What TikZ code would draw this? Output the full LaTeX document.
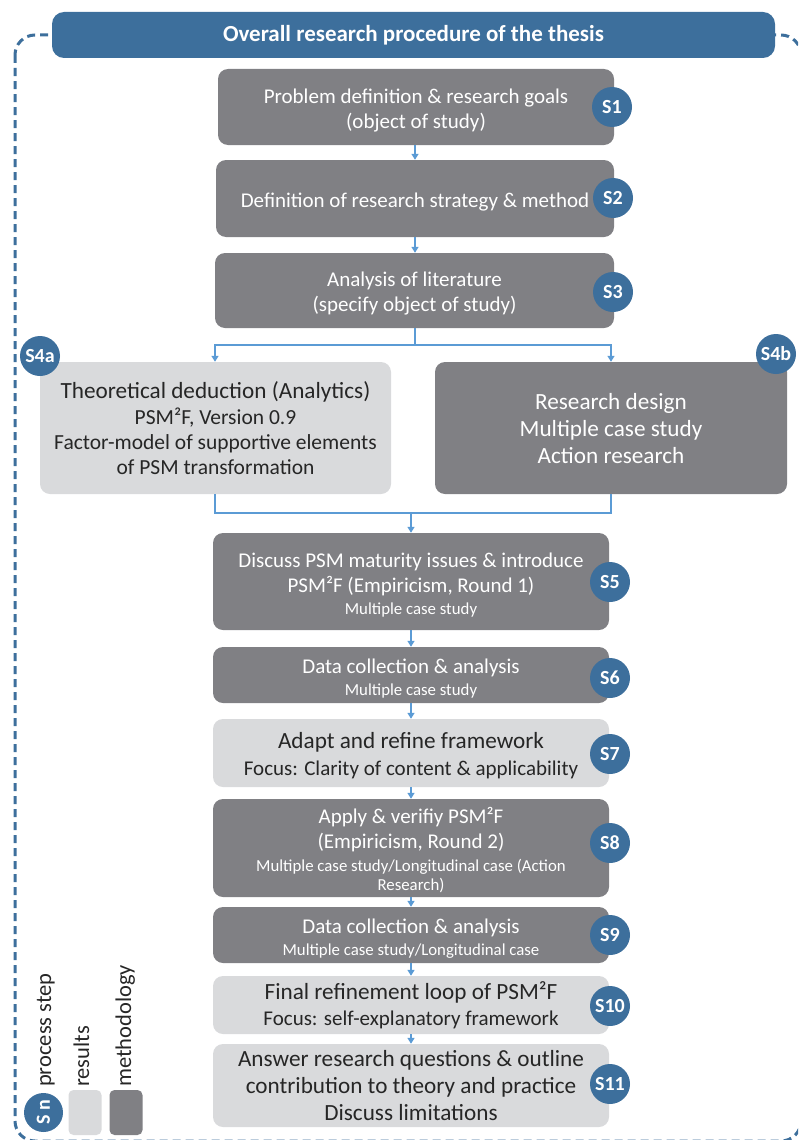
\documentclass[tikz,border=0pt]{standalone}
\usepackage{fontspec}
\setmainfont{Carlito}
\usetikzlibrary{arrows.meta,shapes.geometric}
\definecolor{stepblue}{RGB}{61,111,156}
\definecolor{darkbox}{RGB}{128,128,132}
\definecolor{lightbox}{RGB}{217,218,220}
\definecolor{arrowblue}{RGB}{91,155,213}
\definecolor{textdark}{RGB}{38,38,38}
\newcommand\fmain{\fontsize{21}{25}\selectfont}
\newcommand\fmid{\fontsize{21.5}{25}\selectfont}
\newcommand\flarge{\fontsize{23.2}{27}\selectfont}
\newcommand\fsmall{\fontsize{16.8}{20}\selectfont}
\newcommand\psmf{PSM²F}
\tikzset{
  boxbase/.style={rounded corners=10pt, inner sep=0pt, minimum width=396pt},
  darkstep/.style={boxbase, fill=darkbox},
  lightstep/.style={boxbase, fill=lightbox},
  wtext/.style={align=center, inner sep=0pt, text=white, font=\fmain},
  dtext/.style={align=center, inner sep=0pt, text=textdark, font=\fmain},
  stepc/.style={circle, fill=stepblue, text=white, minimum size=40pt, inner sep=0pt, font=\fontsize{20}{22}\selectfont\bfseries},
  conn/.style={draw=arrowblue, line width=1.4pt, -{Triangle[length=6pt,width=7pt]}},
  connline/.style={draw=arrowblue, line width=1.4pt},
  legtext/.style={rotate=90, anchor=base west, inner sep=0pt, text=textdark, font=\fontsize{22.5}{24}\selectfont}
}
\begin{document}
\begin{tikzpicture}[x=1pt,y=-1pt]
\useasboundingbox (0,0) rectangle (798,1140);
\begin{scope}
\clip (0,0) rectangle (798,1140);
\draw[stepblue, line width=3pt, dash pattern=on 8pt off 5pt, rounded corners=20pt] (15,35) rectangle (801,1141);
\end{scope}
% banner
\node[fill=stepblue, rounded corners=12pt, minimum width=723pt, minimum height=46pt, inner sep=0pt, text=white, font=\fontsize{23}{26}\selectfont\bfseries] (title) at (413.5,35) {Overall research procedure of the thesis};

% boxes
\node[darkstep, minimum height=76pt] (s1) at (416,107) {};
\node[darkstep, minimum width=398pt, minimum height=77pt] (s2) at (415,198.5) {};
\node[darkstep, minimum width=399pt, minimum height=75pt] (s3) at (414.5,290.5) {};
\node[lightstep, minimum width=351pt, minimum height=132pt] (s4a) at (215.5,428) {};
\node[darkstep, minimum width=352pt, minimum height=132pt] (s4b) at (611,428) {};
\node[darkstep, minimum height=97pt] (s5) at (411,581.5) {};
\node[darkstep, minimum height=56pt] (s6) at (411,675) {};
\node[lightstep, minimum height=68pt] (s7) at (411,753) {};
\node[darkstep, minimum height=98pt] (s8) at (411,848) {};
\node[darkstep, minimum height=56pt] (s9) at (411,935) {};
\node[lightstep, minimum height=58pt] (s10) at (411,1005) {};
\node[lightstep, minimum height=83pt] (s11) at (411,1085.5) {};

% box texts
\node[wtext] (t1) at ([yshift=-3.5pt]s1.center) {Problem definition \& research goals\\(object of study)};
\node[wtext] (t2) at ([yshift=-3.5pt]s2.center) {Definition of research strategy \& method};
\node[wtext] (t3) at ([yshift=-3.5pt]s3.center) {Analysis of literature\\(specify object of study)};
\node[dtext, font=\flarge] (t4a) at ([yshift=-0.5pt]s4a.center) {Theoretical deduction (Analytics)\\[-1pt]\fmid\psmf, Version 0.9\\[-2pt]\fmid Factor-model of supportive elements\\[-2pt]\fmid of PSM transformation};
\node[wtext, font=\flarge] (t4b) at ([yshift=-1pt]s4b.center) {Research design\\Multiple case study\\Action research};
\node[wtext] (t5) at ([yshift=-3.5pt]s5.center) {Discuss PSM maturity issues \& introduce\\\psmf{} (Empiricism, Round 1)\\[-3pt]\fsmall Multiple case study};
\node[wtext] (t6) at ([yshift=-4pt]s6.center) {Data collection \& analysis\\[-3pt]\fsmall Multiple case study};
\node[dtext] (t7) at ([yshift=-3pt]s7.center) {\flarge Adapt and refine framework\\[2pt]Focus: Clarity of content \& applicability};
\node[wtext] (t8) at ([yshift=-2pt]s8.center) {Apply \& verifiy \psmf\\(Empiricism, Round 2)\\[-2pt]\fsmall Multiple case study/Longitudinal case (Action\\[-6pt]\fsmall Research)};
\node[wtext] (t9) at ([yshift=-3.5pt]s9.center) {Data collection \& analysis\\[-3pt]\fsmall Multiple case study/Longitudinal case};
\node[dtext] (t10) at (s10.center) {\flarge Final refinement loop of \psmf\\[1pt]Focus: self-explanatory framework};
\node[dtext, font=\flarge] (t11) at ([yshift=-0.5pt]s11.center) {Answer research questions \& outline\\contribution to theory and practice\\Discuss limitations};

% step circles
\node[stepc] (c1) at (612,107) {S1};
\node[stepc] (c2) at (613,198) {S2};
\node[stepc] (c3) at (613,292) {S3};
\node[stepc] (c4a) at (40,356) {S4a};
\node[stepc] (c4b) at (776,354) {S4b};
\node[stepc] (c5) at (610,582) {S5};
\node[stepc] (c6) at (610,678) {S6};
\node[stepc] (c7) at (610,754) {S7};
\node[stepc] (c8) at (610,843) {S8};
\node[stepc] (c9) at (610,935) {S9};
\node[stepc] (c10) at (610,1006) {S10};
\node[stepc] (c11) at (610,1084) {S11};

% connectors
\coordinate (split) at (415,345);
\coordinate (join) at (411,513);
\draw[conn] (s1.south -| 415,0) -- (s2.north -| 415,0);
\draw[conn] (s2.south -| 415,0) -- (s3.north -| 415,0);
\draw[connline] (s3.south -| split) -- (split);
\draw[conn] (split) -| (s4a.north -| 215,0);
\draw[conn] (split) -| (s4b.north -| 611,0);
\draw[connline] (s4a.south -| 215,0) |- (join);
\draw[connline] (s4b.south -| 611,0) |- (join);
\draw[conn] (join) -- (s5.north -| join);
\draw[conn] (s5.south -| 411,0) -- (s6.north -| 411,0);
\draw[conn] (s6.south -| 411,0) -- (s7.north -| 411,0);
\draw[conn] (s7.south -| 411,0) -- (s8.north -| 411,0);
\draw[conn] (s8.south -| 411,0) -- (s9.north -| 411,0);
\draw[conn] (s9.south -| 411,0) -- (s10.north -| 411,0);
\draw[conn] (s10.south -| 411,0) -- (s11.north -| 411,0);

% legend
\node[stepc, circle, minimum size=39pt] (legc) at (43.5,1112.5) {\rotatebox{90}{S n}};
\node[fill=lightbox, rounded corners=5pt, minimum width=33pt, minimum height=45pt, inner sep=0pt] (legr) at (85,1112.5) {};
\node[fill=darkbox, rounded corners=5pt, minimum width=33pt, minimum height=45pt, inner sep=0pt] (legm) at (126,1112.5) {};
\node[legtext] (legct) at (51,1087) {process step};
\node[legtext] (legrt) at (89,1087) {results};
\node[legtext] (legmt) at (131,1087) {methodology};
\end{tikzpicture}
\end{document}
